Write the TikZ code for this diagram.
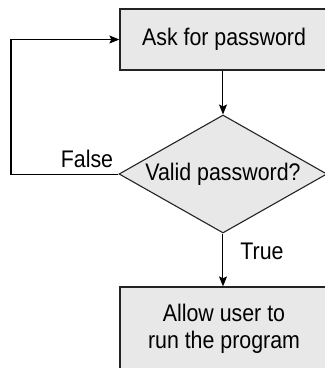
\documentclass[tikz,border=0pt]{standalone}
\definecolor{boxGray}{RGB}{232,232,232}
\definecolor{lineGray}{RGB}{35,35,35}
\usepackage{fontspec}
\setmainfont{Liberation Sans}[FakeStretch=0.89]
\usepackage{tikz}
\usetikzlibrary{shapes,arrows.meta,positioning,calc}

\begin{document}
\begin{tikzpicture}[x=1pt,y=-1pt,
    stepbox/.style={draw=lineGray,line width=1.3pt,fill=boxGray,inner sep=0pt,
      minimum width=208pt,align=center,font=\fontsize{24}{27}\selectfont},
    decision/.style={diamond,draw=lineGray,line width=1.1pt,fill=boxGray,inner sep=0pt,
      aspect=1.75,minimum width=208pt,minimum height=118pt,font=\fontsize{24}{27}\selectfont},
    flow/.style={draw=black,line width=1pt,-{Stealth[length=10pt,width=8pt,inset=2pt]}},
    lbl/.style={font=\fontsize{24}{27}\selectfont}]
  \useasboundingbox (0,0) rectangle (325,368);
  % Boxes
  \node[stepbox,minimum height=61pt] (ask) at (224,39.5) {Ask for password};
  \node[decision] (valid) at (223,174) {Valid password?};
  \node[stepbox,minimum height=83pt] (allow) at (224,328.5) {Allow user to\\run the program};
  % Loop back
  \coordinate (loop) at (11,39.5);
  \draw[flow] (ask.south -| valid.north) -- (valid.north);
  \draw[flow] (valid.west) -| (loop) -- (ask.west);
  \draw[flow] (valid.south) -- (valid.south |- allow.north);
  % Labels
  \node[lbl] (false) at (87,159) {False};
  \node[lbl] (true) at (262,251) {True};
\end{tikzpicture}
\end{document}
